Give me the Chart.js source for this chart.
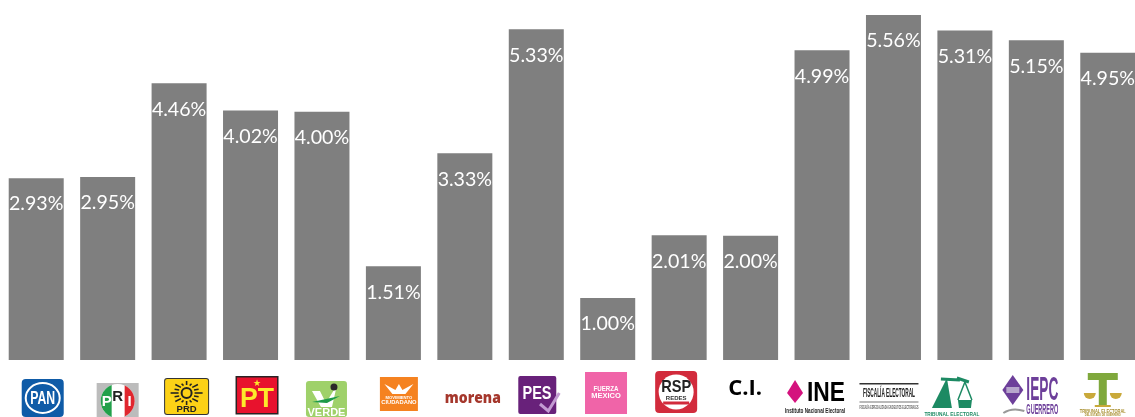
<!DOCTYPE html>
<html><head><meta charset="utf-8">
<style>html,body{margin:0;padding:0;background:#fff;overflow:hidden;width:1135px;height:417px}
#w{position:absolute;left:0;top:0;width:1144px;height:417px}</style>
<script src="https://cdn.jsdelivr.net/npm/chart.js@4/dist/chart.umd.min.js"></script>
</head><body><div id="w"><canvas id="c" width="1144" height="417"></canvas></div>
<script>
const categories=["PAN","PRI","PRD","PT","VERDE","Movimiento Ciudadano","morena","PES","Fuerza México","RSP","C.I.","INE","Fiscalía Electoral","Tribunal Electoral","IEPC Guerrero","Tribunal Electoral del Estado de Guerrero"];
const values=[2.93,2.95,4.46,4.02,4.00,1.51,3.33,5.33,1.00,2.01,2.00,4.99,5.56,5.31,5.15,4.95];
const SANS='"Liberation Sans"';
function rr(g,x,y,w,h,r,fill){g.beginPath();g.roundRect(x,y,w,h,r);g.fillStyle=fill;g.fill();}
function tx(g,s,x,y,font,fill,mw){g.font=font;g.fillStyle=fill;g.textAlign='center';g.textBaseline='middle';g.fillText(s,x,y,mw);}
const logos=[
g=>{rr(g,-14.5,19,42,38,4,'#0f5ba7');g.strokeStyle='#fff';g.lineWidth=2;g.beginPath();g.ellipse(6.5,38,17,15,0,0,7);g.stroke();tx(g,'PAN',6.5,38.5,'bold 19px '+SANS,'#fff',25);},
g=>{rr(g,-11,23,42,34,0,'#bcbcbc');g.beginPath();g.arc(10,41,17,0,7);g.fillStyle='#fff';g.fill();g.save();g.beginPath();g.arc(10,41,17,0,7);g.clip();g.fillStyle='#22a04a';g.fillRect(-8,24,12,34);g.fillStyle='#e0262e';g.fillRect(17,24,12,34);g.restore();tx(g,'P',-1,42,'bold 15px '+SANS,'#fff');tx(g,'R',10,37,'bold 15px '+SANS,'#222');tx(g,'I',22,42,'bold 15px '+SANS,'#fff');},
g=>{rr(g,-15,18,45,37,3,'#333');rr(g,-14,19,43,35,2,'#fcd116');g.strokeStyle='#222';g.lineWidth=1.6;for(let a=0;a<16;a++){const t=a*Math.PI/8;g.beginPath();g.moveTo(7.5+Math.cos(t)*8,33+Math.sin(t)*8);g.lineTo(7.5+Math.cos(t)*(a%2?13:16),33+Math.sin(t)*(a%2?10:12));g.stroke();}g.beginPath();g.arc(7.5,33,5,0,7);g.lineWidth=2;g.stroke();tx(g,'PRD',7.5,49.5,'bold 9.5px '+SANS,'#222');},
g=>{rr(g,-15,16,43,38.5,0,'#2a2224');rr(g,-13.5,17.5,40,35.5,0,'#e8122d');tx(g,'PT',6.5,39.5,'bold 28px '+SANS,'#fde92b',34);tx(g,'★',6.5,24,'9px "DejaVu Sans"','#fde92b');},
g=>{rr(g,-16,21,41,36,3,'#9fd16a');g.fillStyle='#fff';g.beginPath();g.moveTo(-10,31);g.lineTo(-2,31);g.lineTo(4,43);g.lineTo(15,25);g.lineTo(10,47);g.lineTo(-1,47);g.closePath();g.fill();g.fillStyle='#1d9a4a';g.beginPath();g.moveTo(-10,42);g.lineTo(18,36);g.lineTo(5,43);g.closePath();g.fill();g.fillStyle='#2a2a2a';g.beginPath();g.arc(12,27,3.5,0,7);g.fill();tx(g,'VERDE',4.5,52.5,'bold 11.5px '+SANS,'#fff',38);},
g=>{rr(g,-13.5,17,38,34,0,'#f58220');g.fillStyle='#fff';g.beginPath();g.moveTo(-9,24);g.lineTo(2,30);g.lineTo(5.5,24);g.lineTo(9,30);g.lineTo(20,24);g.lineTo(12,34);g.lineTo(-1,34);g.closePath();g.fill();tx(g,'MOVIMIENTO',5.5,37.5,'bold 4.2px '+SANS,'#fff');tx(g,'CIUDADANO',5.5,42.5,'bold 5.8px '+SANS,'#fff');},
g=>{tx(g,'morena',8,39,'800 15px "Open Sans"','#a5372c',56);},
g=>{rr(g,-18,16,38,38,2,'#68217a');tx(g,'PES',0.7,34.5,'bold 18px '+SANS,'#fff',29);g.strokeStyle='#c39bd3';g.lineWidth=3;g.beginPath();g.moveTo(3.7,44);g.lineTo(12,51);g.lineTo(23,33);g.stroke();},
g=>{rr(g,-22.7,12,42,42,0,'#f064a8');tx(g,'FUERZA',-1.7,29,'bold 7px '+SANS,'#fff',25);tx(g,'MEXICO',-1.7,36,'bold 7.5px '+SANS,'#fff',31);},
g=>{rr(g,-24,11,42,42,4,'#d22b3c');g.beginPath();g.arc(-3,32,17.5,0,7);g.fillStyle='#fff';g.fill();tx(g,'RSP',-3,27,'bold 17px '+SANS,'#222',30);tx(g,'REDES',-3,38,'bold 6px '+SANS,'#333');rr(g,-16,41.5,26,3,0,'#d22b3c');},
g=>{tx(g,'C.I.',-5.5,29,'bold 22px "Open Sans"','#000');},
g=>{g.fillStyle='#d4127e';g.beginPath();g.moveTo(-27,20);g.lineTo(-19,33);g.lineTo(-27,43);g.lineTo(-35,33);g.closePath();g.fill();tx(g,'INE',4,33.5,'bold 28px '+SANS,'#000',38);tx(g,'Instituto Nacional Electoral',-7,51.5,'bold 7px '+SANS,'#222',60);},
g=>{g.fillStyle='#333';g.fillRect(-34,23,59,1.5);g.fillStyle='#777';g.fillRect(-34,41.5,59,1);tx(g,'FISCALÍA ELECTORAL',-4.5,33.5,'bold 13px '+SANS,'#222',52);tx(g,'FISCALÍA ESPECIALIZADA EN DELITOS ELECTORALES',-4.5,48,'bold 4.5px '+SANS,'#555',59);},
g=>{g.fillStyle='#1d8a63';g.beginPath();g.moveTo(-18,18);g.lineTo(-13,48);g.lineTo(-33,48);g.closePath();g.fill();g.beginPath();g.moveTo(-7,40);g.lineTo(7,40);g.lineTo(6,48);g.lineTo(-6,48);g.closePath();g.fill();g.strokeStyle='#1d8a63';g.lineWidth=1.5;g.beginPath();g.moveTo(0,22);g.lineTo(-7,40);g.moveTo(0,22);g.lineTo(7,40);g.stroke();g.lineWidth=3;g.beginPath();g.moveTo(-24,19);g.lineTo(-5,20);g.moveTo(-8,18);g.lineTo(4,22);g.stroke();tx(g,'TRIBUNAL ELECTORAL',-13,54,'bold 5.5px '+SANS,'#1d8a63',55);},
g=>{g.fillStyle='#6d3f9a';g.beginPath();g.moveTo(-23.6,15);g.lineTo(-13,30);g.lineTo(-23.6,45);g.lineTo(-34,30);g.closePath();g.fill();g.fillStyle='#b7a6cc';g.fillRect(-30,27,13,6);tx(g,'IEPC',6,31,'bold 34px '+SANS,'#6d3f9a',32);tx(g,'GUERRERO',6,50,'bold 14px '+SANS,'#6d3f9a',32);g.strokeStyle='#999';g.lineWidth=2;g.beginPath();g.moveTo(-33,53);g.quadraticCurveTo(-24,47,-12,51);g.stroke();},
g=>{g.fillStyle='#7fa83c';g.fillRect(-20,13,30,7);g.fillRect(-9,20,8,25);g.fillStyle='#c9a93a';g.fillRect(-13,45,16,2);g.beginPath();g.arc(-18,33,6,0,Math.PI);g.fill();g.beginPath();g.arc(8,33,6,0,Math.PI);g.fill();tx(g,'TRIBUNAL ELECTORAL',-5,52,'bold 5px '+SANS,'#a88f2e',46);tx(g,'DEL ESTADO DE GUERRERO',-5,55.5,'bold 3.5px '+SANS,'#a88f2e',36);}
];
const paint={id:'paint',afterDatasetsDraw(c){
 const g=c.ctx,m=c.getDatasetMeta(0);
 g.save();
 m.data.forEach((b,i)=>{tx(g,values[i].toFixed(2)+'%',b.x,b.y+26,'19.6px Lato,sans-serif','#fff');});
 g.restore();
 logos.forEach((f,i)=>{g.save();g.translate(c.scales.x.getPixelForValue(i),c.scales.y.getPixelForValue(0));f(g);g.restore();});
}};
new Chart(document.getElementById('c'),{type:'bar',
 data:{labels:categories,datasets:[{data:values,backgroundColor:'#7f7f7f',borderWidth:0,categoryPercentage:1,barPercentage:0.77}]},
 options:{responsive:false,animation:false,layout:{padding:{left:0.5,right:0.5,top:0,bottom:57}},
  plugins:{legend:{display:false},tooltip:{enabled:false}},
  scales:{x:{display:false},y:{display:false,min:0,max:5.8}}},
 plugins:[paint]});
</script></body></html>
